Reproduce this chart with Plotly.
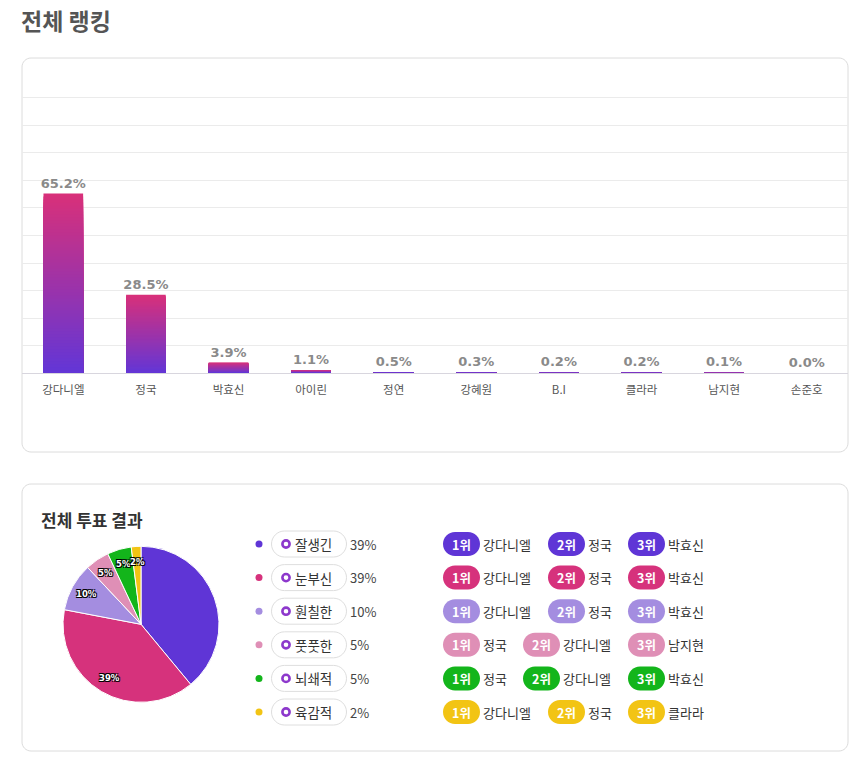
import math
import plotly.graph_objects as go

W, H = 860, 761

# ---------------- data ----------------
names = ["강다니엘", "정국", "박효신", "아이린", "정연", "강혜원", "B.I", "클라라", "남지현", "손준호"]
shares = [65.2, 28.5, 3.9, 1.1, 0.5, 0.3, 0.2, 0.2, 0.1, 0.0]

vote_cats = ["잘생긴", "눈부신", "훤칠한", "풋풋한", "뇌쇄적", "육감적"]
vote_pcts = [39, 39, 10, 5, 5, 2]
vote_colors = ["#5f35d6", "#d6327c", "#a48de0", "#df8fb6", "#13b51b", "#f2c414"]
pie_label_shown = [False, True, True, True, True, True]

rank_labels = ["1위", "2위", "3위"]
rank_top3 = [
    ["강다니엘", "정국", "박효신"],
    ["강다니엘", "정국", "박효신"],
    ["강다니엘", "정국", "박효신"],
    ["정국", "강다니엘", "남지현"],
    ["정국", "강다니엘", "박효신"],
    ["강다니엘", "정국", "클라라"],
]

KR = "Noto Sans CJK KR"


def X(px):
    return px / W


def Y(py):
    return 1 - py / H


def rrect_path(x0, y0, x1, y1, r):
    k = 0.5523 * r
    p = [
        f"M {X(x0 + r)},{Y(y0)}",
        f"L {X(x1 - r)},{Y(y0)}",
        f"C {X(x1 - r + k)},{Y(y0)} {X(x1)},{Y(y0 + r - k)} {X(x1)},{Y(y0 + r)}",
        f"L {X(x1)},{Y(y1 - r)}",
        f"C {X(x1)},{Y(y1 - r + k)} {X(x1 - r + k)},{Y(y1)} {X(x1 - r)},{Y(y1)}",
        f"L {X(x0 + r)},{Y(y1)}",
        f"C {X(x0 + r - k)},{Y(y1)} {X(x0)},{Y(y1 - r + k)} {X(x0)},{Y(y1 - r)}",
        f"L {X(x0)},{Y(y0 + r)}",
        f"C {X(x0)},{Y(y0 + r - k)} {X(x0 + r - k)},{Y(y0)} {X(x0 + r)},{Y(y0)}",
        "Z",
    ]
    return " ".join(p)


fig = go.Figure()

# ---------------- gradient bars (overlaid bands) ----------------
N = 60
top_rgb = (216, 48, 122)
bot_rgb = (99, 54, 214)
for k in range(N):
    f = 1 - k / N
    t = k / (N - 1)
    c = tuple(round(top_rgb[i] + (bot_rgb[i] - top_rgb[i]) * t) for i in range(3))
    kw = {}
    if k == 0:
        kw = dict(
            text=[f"{v:.1f}%" for v in shares],
            textposition="outside",
            constraintext="none",
            textfont=dict(family="DejaVu Sans", size=13, color="#8a8a8a", weight="bold"),
            cliponaxis=False,
        )
    fig.add_trace(go.Bar(
        x=names, y=[v * f for v in shares],
        marker=dict(color=f"rgb{c}", line=dict(width=0)),
        width=0.48, hoverinfo="skip", showlegend=False, **kw,
    ))

# ---------------- pie ----------------
cx, cy, pr = 141, 624.3, 78
fig.add_trace(go.Pie(
    values=vote_pcts, labels=vote_cats, sort=False, direction="clockwise", rotation=0,
    marker=dict(colors=vote_colors, line=dict(color="white", width=1)),
    textinfo="none", hoverinfo="skip", showlegend=False,
    domain=dict(x=[X(cx - pr), X(cx + pr)], y=[Y(cy + pr), Y(cy - pr)]),
))

annotations = []
shapes = []
total = sum(vote_pcts)
cum = 0
for v, show in zip(vote_pcts, pie_label_shown):
    mid = (cum + v / 2) / total * 2 * math.pi
    cum += v
    if not show:
        continue
    rr = 0.8 * pr
    annotations.append(dict(
        x=X(cx + rr * math.sin(mid)), y=Y(cy - rr * math.cos(mid)),
        xref="paper", yref="paper", showarrow=False, text=f"{v}%",
        font=dict(family="DejaVu Sans", size=8.5, color="white", weight="bold",
                  shadow="1px 1px 0 #000, -1px -1px 0 #000, 1px -1px 0 #000, -1px 1px 0 #000"),
        xanchor="center", yanchor="middle", borderpad=0,
    ))

# ---------------- cards ----------------
for (x0, y0, x1, y1) in [(22, 58, 848, 452), (22, 484, 848, 751)]:
    shapes.append(dict(type="path", path=rrect_path(x0, y0, x1, y1, 9), xref="paper", yref="paper",
                       line=dict(color="#dcdcdc", width=1), fillcolor="white", layer="below"))

# ---------------- titles ----------------
annotations.append(dict(x=X(19), y=Y(20), xref="paper", yref="paper", showarrow=False,
                        text="전체 랭킹", xanchor="left", yanchor="middle",
                        font=dict(family=KR, size=23, color="#555555", weight="bold")))
annotations.append(dict(x=X(39), y=Y(519), xref="paper", yref="paper", showarrow=False,
                        text="전체 투표 결과", xanchor="left", yanchor="middle",
                        font=dict(family=KR, size=17, color="#333333", weight="bold")))

# ---------------- legend rows + ranking pills ----------------
row_y0 = 544
row_dy = 33.6
for i, (cat, pct, col, top3) in enumerate(zip(vote_cats, vote_pcts, vote_colors, rank_top3)):
    yc = row_y0 + i * row_dy
    shapes.append(dict(type="circle", xref="paper", yref="paper",
                       x0=X(259 - 3.5), x1=X(259 + 3.5), y0=Y(yc + 3.5), y1=Y(yc - 3.5),
                       fillcolor=col, line=dict(width=0)))
    shapes.append(dict(type="path", path=rrect_path(271.5, yc - 13, 346.5, yc + 13, 13),
                       xref="paper", yref="paper", line=dict(color="#dedede", width=1), fillcolor="white"))
    shapes.append(dict(type="circle", xref="paper", yref="paper",
                       x0=X(286 - 3.6), x1=X(286 + 3.6), y0=Y(yc + 3.6), y1=Y(yc - 3.6),
                       fillcolor="white", line=dict(color="#8d38cc", width=2.6)))
    annotations.append(dict(x=X(293), y=Y(yc), xref="paper", yref="paper", showarrow=False,
                            text=cat, xanchor="left", yanchor="middle",
                            font=dict(family=KR, size=13.5, color="#333333")))
    annotations.append(dict(x=X(347.5), y=Y(yc), xref="paper", yref="paper", showarrow=False,
                            text=f"{pct}%", xanchor="left", yanchor="middle",
                            font=dict(family=KR, size=13, color="#444444")))
    px = 443
    for lab, nm in zip(rank_labels, top3):
        shapes.append(dict(type="path", path=rrect_path(px, yc - 12, px + 37, yc + 12, 12),
                           xref="paper", yref="paper", line=dict(width=0), fillcolor=col))
        annotations.append(dict(x=X(px + 18.5), y=Y(yc), xref="paper", yref="paper", showarrow=False,
                                text=lab, xanchor="center", yanchor="middle",
                                font=dict(family=KR, size=12.5, color="white", weight="bold")))
        annotations.append(dict(x=X(px + 38), y=Y(yc), xref="paper", yref="paper", showarrow=False,
                                text=nm, xanchor="left", yanchor="middle",
                                font=dict(family=KR, size=13, color="#333333")))
        px = px + 40 + len(nm) * 12.5 + 15

# ---------------- layout ----------------
base_py = 373.3
unit_px = (373.3 - 97.7) / 100
y_max = 102
top_py = base_py - y_max * unit_px
fig.update_layout(
    width=W, height=H, margin=dict(l=0, r=0, t=0, b=0),
    paper_bgcolor="white", plot_bgcolor="rgba(0,0,0,0)",
    barmode="overlay",
    xaxis=dict(domain=[X(22), X(848)], showgrid=False, zeroline=False,
               showline=True, linecolor="#d8d6de", linewidth=1,
               ticks="", ticklabelstandoff=6,
               tickfont=dict(family=KR, size=11.5, color="#555555"), fixedrange=True),
    yaxis=dict(domain=[Y(base_py), Y(top_py)], range=[0, y_max], dtick=10,
               showgrid=True, gridcolor="#ebebeb", gridwidth=1, zeroline=False,
               showticklabels=False, ticks="", fixedrange=True),
    shapes=shapes, annotations=annotations,
    font=dict(family=KR),
)

fig.write_html("out.html")
